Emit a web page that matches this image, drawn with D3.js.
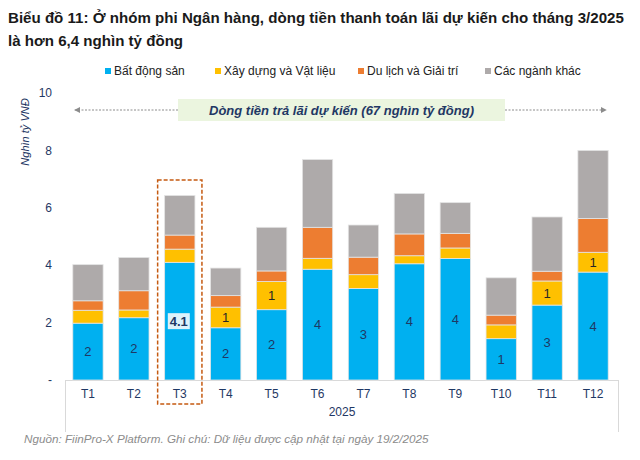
<!DOCTYPE html>
<html>
<head>
<meta charset="utf-8">
<script src="https://cdn.jsdelivr.net/npm/d3@7/dist/d3.min.js"></script>
<style>
  body { margin: 0; background: #fff; }
  text { font-family: "Liberation Sans", Arial, sans-serif; }
</style>
</head>
<body>
<div id="chart"></div>
<script>
// months of 2025
const months = ["T1", "T2", "T3", "T4", "T5", "T6", "T7", "T8", "T9", "T10", "T11", "T12"];
const seriesNames = ["Bất động sản", "Xây dựng và Vật liệu", "Du lịch và Giải trí", "Các ngành khác"];
// thousand billion VND
const batDongSan = [1.98, 2.17, 4.10, 1.82, 2.45, 3.86, 3.19, 4.05, 4.23, 1.44, 2.61, 3.76];
const xayDung    = [0.45, 0.27, 0.46, 0.72, 0.98, 0.38, 0.48, 0.28, 0.37, 0.48, 0.84, 0.69];
const duLich     = [0.33, 0.67, 0.49, 0.40, 0.37, 1.08, 0.61, 0.76, 0.51, 0.34, 0.34, 1.18];
const khac       = [1.26, 1.16, 1.38, 0.96, 1.52, 2.36, 1.12, 1.41, 1.07, 1.30, 1.89, 2.37];
const yTicks = [0, 2, 4, 6, 8, 10];
const highlightMonth = "T3";

const W = 640, H = 460;
const colors = ["#00b0f0", "#ffc000", "#ed7d31", "#aeaaaa"];
const navy = "#1f3864";

const svg = d3.select("#chart").append("svg")
    .attr("width", W).attr("height", H);

// Title
const title = svg.append("text")
    .attr("x", 8).attr("y", 23)
    .attr("font-size", 15.1).attr("font-weight", "bold").attr("fill", "#1a1a1a");
title.append("tspan").attr("x", 8).attr("dy", 0)
    .text("Biểu đồ 11: Ở nhóm phi Ngân hàng, dòng tiền thanh toán lãi dự kiến cho tháng 3/2025");
title.append("tspan").attr("x", 8).attr("dy", 23)
    .text("là hơn 6,4 nghìn tỷ đồng");

// Legend
const legendX = [105, 215, 358, 485];
const legend = svg.selectAll("g.legend").data(seriesNames).enter().append("g")
    .attr("class", "legend")
    .attr("transform", (d, i) => "translate(" + legendX[i] + ",71)");
legend.append("rect").attr("x", 0).attr("y", -3).attr("width", 6).attr("height", 6)
    .attr("fill", (d, i) => colors[i]);
legend.append("text").attr("x", 9).attr("dy", "0.35em")
    .attr("font-size", 12).attr("fill", "#222").text(d => d);

// Scales
const x = d3.scaleBand().domain(months).range([65, 616])
    .paddingInner(0.34).paddingOuter(0.17);
const y = d3.scaleLinear().domain([0, 10]).range([380, 93]);

// stack data
const table = months.map((m, i) => ({
    month: m, s0: batDongSan[i], s1: xayDung[i], s2: duLich[i], s3: khac[i]
}));
const keys = ["s0", "s1", "s2", "s3"];
const stacked = d3.stack().keys(keys)(table);

// Y axis ticks
svg.append("g").selectAll("text").data(yTicks).enter().append("text")
    .attr("x", 52).attr("y", d => y(d)).attr("dy", "0.35em")
    .attr("text-anchor", "end").attr("font-size", 12).attr("fill", navy)
    .text(d => d === 0 ? "-" : d);

svg.append("text")
    .attr("transform", "translate(29,132) rotate(-90)")
    .attr("text-anchor", "middle").attr("font-size", 11).attr("font-style", "italic")
    .attr("fill", navy).text("Nghìn tỷ VNĐ");

// Annotation arrow + box
const arrowY = 110;
const defs = svg.append("defs");
defs.append("marker").attr("id", "ah").attr("viewBox", "0 0 10 10")
    .attr("refX", 9).attr("refY", 5).attr("markerWidth", 6).attr("markerHeight", 6)
    .attr("orient", "auto-start-reverse")
    .append("path").attr("d", "M0,0 L10,5 L0,10 z").attr("fill", "#8c8c8c");

const xLeft = x("T1") + 2, xRight = x("T12") + x.bandwidth() - 2;
const boxL = 178, boxR = 505;
svg.append("line").attr("x1", boxL).attr("x2", xLeft).attr("y1", arrowY).attr("y2", arrowY)
    .attr("stroke", "#8c8c8c").attr("stroke-dasharray", "2,1.5").attr("marker-end", "url(#ah)");
svg.append("line").attr("x1", boxR).attr("x2", xRight).attr("y1", arrowY).attr("y2", arrowY)
    .attr("stroke", "#8c8c8c").attr("stroke-dasharray", "2,1.5").attr("marker-end", "url(#ah)");
svg.append("rect").attr("x", boxL).attr("y", 99).attr("width", boxR - boxL).attr("height", 22)
    .attr("fill", "#ebf5df");
svg.append("text").attr("x", (boxL + boxR) / 2).attr("y", 110).attr("dy", "0.35em")
    .attr("text-anchor", "middle").attr("font-size", 13).attr("font-weight", "bold")
    .attr("font-style", "italic").attr("fill", navy)
    .text("Dòng tiền trả lãi dự kiến (" + Math.round(d3.sum(table, d => d.s0 + d.s1 + d.s2 + d.s3)) + " nghìn tỷ đồng)");

// Category axis frame
const axisL = 65, axisR = 619;
svg.append("line").attr("x1", axisL).attr("x2", axisR).attr("y1", y(0) + 0.5).attr("y2", y(0) + 0.5)
    .attr("stroke", "#d9d9d9");
svg.append("line").attr("x1", axisL + 0.5).attr("x2", axisL + 0.5).attr("y1", y(0)).attr("y2", 432)
    .attr("stroke", "#d9d9d9");
svg.append("line").attr("x1", axisR - 0.5).attr("x2", axisR - 0.5).attr("y1", y(0)).attr("y2", 432)
    .attr("stroke", "#d9d9d9");

// Bars
const layer = svg.append("g").selectAll("g").data(stacked).enter().append("g")
    .attr("fill", (d, i) => colors[i]);
layer.selectAll("rect").data(d => d).enter().append("rect")
    .attr("x", d => x(d.data.month))
    .attr("y", d => y(d[1]))
    .attr("width", x.bandwidth())
    .attr("height", d => y(d[0]) - y(d[1]))
    .attr("stroke", "#e4e4e4").attr("stroke-width", 0.8);

// Data labels (blue always, yellow when big enough)
stacked.forEach((s, si) => {
    s.forEach(d => {
        const v = d[1] - d[0];
        const m = d.data.month;
        const cx = x(m) + x.bandwidth() / 2;
        const cy = y((d[0] + d[1]) / 2);
        if (si === 0) {
            if (m === highlightMonth) {
                svg.append("rect").attr("x", cx - 12).attr("y", cy - 8).attr("width", 22).attr("height", 16)
                    .attr("fill", "#ddf2fb");
                svg.append("text").attr("x", cx - 1).attr("y", cy).attr("dy", "0.36em")
                    .attr("text-anchor", "middle").attr("font-size", 13).attr("font-weight", "bold")
                    .attr("fill", navy).text(d3.format(".1f")(v));
            } else {
                svg.append("text").attr("x", cx).attr("y", cy).attr("dy", "0.35em")
                    .attr("text-anchor", "middle").attr("font-size", 13).attr("fill", navy)
                    .text(Math.round(v));
            }
        } else if (si === 1 && v >= 0.6) {
            svg.append("text").attr("x", cx).attr("y", cy).attr("dy", "0.35em")
                .attr("text-anchor", "middle").attr("font-size", 13).attr("fill", "#262626")
                .text(Math.round(v));
        }
    });
});

// Month labels + year
svg.append("g").selectAll("text").data(months).enter().append("text")
    .attr("x", d => x(d) + x.bandwidth() / 2).attr("y", 394).attr("dy", "0.35em")
    .attr("text-anchor", "middle").attr("font-size", 12).attr("fill", navy).text(d => d);
svg.append("text").attr("x", (axisL + axisR) / 2).attr("y", 412).attr("dy", "0.35em")
    .attr("text-anchor", "middle").attr("font-size", 12).attr("fill", navy).text("2025");

// Highlight frame around T3
svg.append("rect")
    .attr("x", x(highlightMonth) - 7).attr("y", 180)
    .attr("width", x.bandwidth() + 14).attr("height", 224)
    .attr("fill", "none").attr("stroke", "#c55a11").attr("stroke-width", 1.5)
    .attr("stroke-dasharray", "4,2");

// Footnote
svg.append("text").attr("x", 24).attr("y", 439).attr("dy", "0.35em")
    .attr("font-size", 11.7).attr("font-style", "italic").attr("fill", "#8c8c8c")
    .text("Nguồn: FiinPro-X Platform. Ghi chú: Dữ liệu được cập nhật tại ngày 19/2/2025");
</script>
</body>
</html>
